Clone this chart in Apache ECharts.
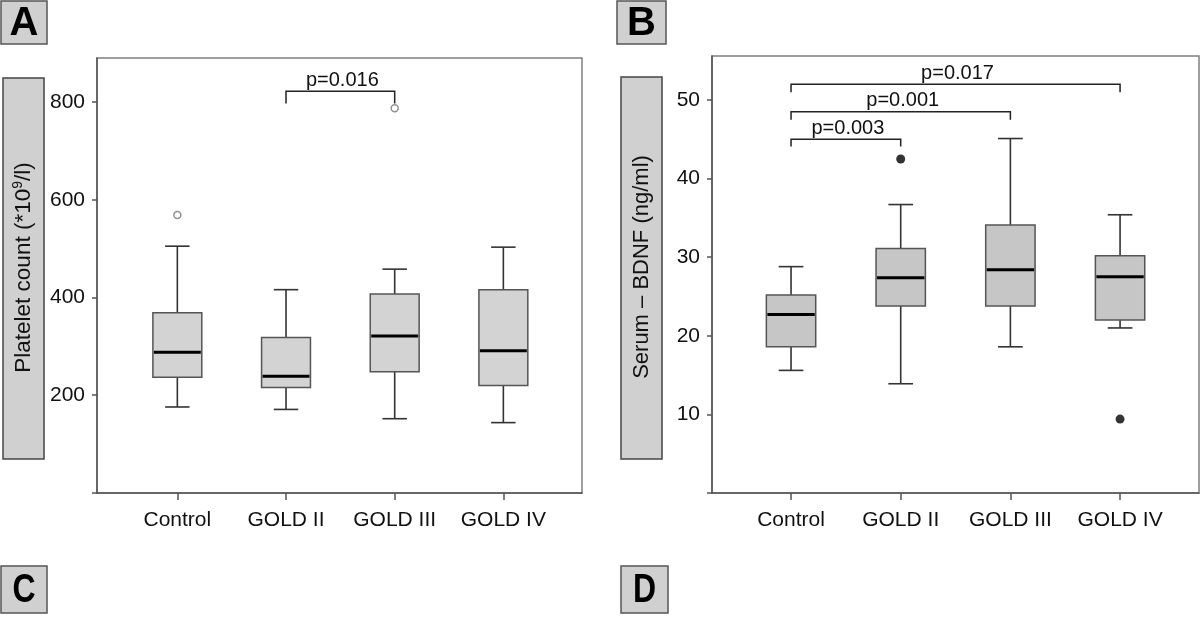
<!DOCTYPE html>
<html><head><meta charset="utf-8">
<script src="https://cdn.jsdelivr.net/npm/echarts@6/dist/echarts.min.js"></script>
<style>html,body{margin:0;padding:0;background:#fff}#c{width:1200px;height:630px}</style>
</head><body><div id="c"></div>
<script>
// ---- data ----
const categories = ['Control', 'GOLD II', 'GOLD III', 'GOLD IV'];
// [lower whisker, Q1, median, Q3, upper whisker]
const plateletBox = [
  [176, 237, 288, 369, 505],
  [171, 216, 239, 318, 416],
  [152, 248, 321, 407, 458],
  [144, 220, 291, 416, 503]
];
const plateletOutliers = [['Control', 569], ['GOLD III', 787]];
const plateletTicks = [0, 200, 400, 600, 800];
const plateletLabels = [200, 400, 600, 800];
const plateletBrackets = [{from: 'GOLD II', to: 'GOLD III', top: 822, leg: 797, p: 'p=0.016'}];

const bdnfBox = [
  [15.6, 18.6, 22.7, 25.2, 28.8],
  [13.9, 23.8, 27.4, 31.1, 36.7],
  [18.6, 23.8, 28.4, 34.1, 45.1],
  [21.0, 22.0, 27.5, 30.2, 35.4]
];
const bdnfOutliers = [['GOLD II', 42.5], ['GOLD IV', 9.4]];
const bdnfTicks = [0, 10, 20, 30, 40, 50];
const bdnfLabels = [10, 20, 30, 40, 50];
const bdnfBrackets = [
  {from: 'Control', to: 'GOLD IV', top: 52.0, leg: 51.0, p: 'p=0.017'},
  {from: 'Control', to: 'GOLD III', top: 48.5, leg: 47.5, p: 'p=0.001'},
  {from: 'Control', to: 'GOLD II', top: 45.0, leg: 44.1, p: 'p=0.003'}
];

// ---- helpers ----
const FONT = 'Liberation Sans, Arial, Helvetica, sans-serif';
const TXT = '#111';

function boxRender(fill) {
  return function (params, api) {
    const i = api.value(0);
    const lo = api.coord([i, api.value(1)]);
    const q1 = api.coord([i, api.value(2)]);
    const md = api.coord([i, api.value(3)]);
    const q3 = api.coord([i, api.value(4)]);
    const hi = api.coord([i, api.value(5)]);
    const bw = api.size([1, 0])[0] * 0.45;
    const cw = bw * 0.5;
    const cx = lo[0];
    const wl = {stroke: '#333', lineWidth: 1.6};
    return {
      type: 'group',
      children: [
        {type: 'line', shape: {x1: cx, y1: hi[1], x2: cx, y2: q3[1]}, style: wl},
        {type: 'line', shape: {x1: cx, y1: q1[1], x2: cx, y2: lo[1]}, style: wl},
        {type: 'line', shape: {x1: cx - cw / 2, y1: hi[1], x2: cx + cw / 2, y2: hi[1]}, style: wl},
        {type: 'line', shape: {x1: cx - cw / 2, y1: lo[1], x2: cx + cw / 2, y2: lo[1]}, style: wl},
        {type: 'rect', shape: {x: cx - bw / 2, y: q3[1], width: bw, height: q1[1] - q3[1]},
          style: {fill: fill, stroke: '#555', lineWidth: 1.5}},
        {type: 'line', shape: {x1: cx - bw / 2 + 1, y1: md[1], x2: cx + bw / 2 - 1, y2: md[1]},
          style: {stroke: '#000', lineWidth: 3}}
      ]
    };
  };
}

function bracketRender(list) {
  return function (params, api) {
    const a = api.coord([api.value(0), api.value(2)]);
    const b = api.coord([api.value(1), api.value(2)]);
    const legY = api.coord([api.value(0), api.value(3)])[1];
    return {
      type: 'group',
      children: [
        {type: 'polyline', shape: {points: [[a[0], legY], [a[0], a[1]], [b[0], b[1]], [b[0], legY]]},
          style: {stroke: '#222', lineWidth: 1.5, fill: null}},
        {type: 'text', x: (a[0] + b[0]) / 2 + 2, y: a[1] - 1,
          style: {text: list[params.dataIndex].p, fill: TXT, font: '20px ' + FONT, align: 'center', verticalAlign: 'bottom'}}
      ]
    };
  };
}

function panel(idx, outer, inner, yMax, ticks, labels, boxes, outliers, brackets, fill, outlierStyle) {
  const g0 = idx * 2, g1 = idx * 2 + 1;
  return {
    grid: [
      Object.assign({show: true, borderColor: '#808080', borderWidth: 1.5, backgroundColor: 'transparent'}, outer),
      Object.assign({show: false}, inner)
    ],
    xAxis: [
      {gridIndex: g0, type: 'value', min: 0, max: 1, axisLine: {show: true, lineStyle: {color: '#555', width: 1.5}},
        axisTick: {show: false}, axisLabel: {show: false}, splitLine: {show: false}},
      {gridIndex: g1, type: 'category', data: categories, boundaryGap: true,
        axisLine: {show: false},
        axisTick: {show: true, interval: 0, alignWithLabel: true, length: 7, lineStyle: {color: '#555', width: 1.5}},
        axisLabel: {interval: 0, hideOverlap: false, fontSize: 21, color: TXT, fontFamily: FONT, margin: 17},
        splitLine: {show: false}}
    ],
    yAxis: [
      {gridIndex: g0, type: 'value', min: 0, max: yMax,
        axisLine: {show: true, lineStyle: {color: '#555', width: 1.5}},
        axisTick: {show: true, length: 5, customValues: ticks, lineStyle: {color: '#555', width: 1.5}},
        axisLabel: {customValues: labels, fontSize: 21, color: TXT, fontFamily: FONT, margin: 12},
        splitLine: {show: false}},
      {gridIndex: g1, type: 'value', min: 0, max: yMax, show: false, splitLine: {show: false}}
    ],
    series: [
      {type: 'custom', xAxisIndex: g1, yAxisIndex: g1, renderItem: boxRender(fill), clip: false,
        encode: {x: 0, y: [1, 2, 3, 4, 5]},
        data: boxes.map((b, i) => [i].concat(b))},
      {type: 'scatter', xAxisIndex: g1, yAxisIndex: g1, data: outliers,
        symbol: 'circle', symbolSize: outlierStyle.size, itemStyle: outlierStyle.item, silent: true},
      {type: 'custom', xAxisIndex: g1, yAxisIndex: g1, renderItem: bracketRender(brackets), clip: false,
        encode: {x: [0, 1], y: [2, 3]},
        data: brackets.map(b => [categories.indexOf(b.from), categories.indexOf(b.to), b.top, b.leg])}
    ]
  };
}

const pA = panel(0, {left: 97, top: 58, width: 485, height: 435}, {left: 123, top: 58, width: 434.7, height: 435},
  890, plateletTicks, plateletLabels, plateletBox, plateletOutliers, plateletBrackets, '#d3d3d3',
  {size: 7, item: {color: '#fff', borderColor: '#777', borderWidth: 1.5}});
const pB = panel(1, {left: 712, top: 56, width: 487, height: 437}, {left: 736.2, top: 56, width: 438.7, height: 437},
  55.6, bdnfTicks, bdnfLabels, bdnfBox, bdnfOutliers, bdnfBrackets, '#c6c6c6',
  {size: 9, item: {color: '#000'}});

function letterBox(x, y, w, h, ch, sx) {
  return {type: 'group', children: [
    {type: 'rect', shape: {x: x, y: y, width: w, height: h}, style: {fill: '#d0d0d0', stroke: '#555', lineWidth: 1.5}},
    {type: 'text', x: x + w / 2, y: y + h / 2 + 1, scaleX: sx, style: {text: ch, font: 'bold 40px ' + FONT, fill: '#000', align: 'center', verticalAlign: 'middle'}}
  ]};
}
function titleBox(x, y, w, h, rich, text) {
  return {type: 'group', children: [
    {type: 'rect', shape: {x: x, y: y, width: w, height: h}, style: {fill: '#d0d0d0', stroke: '#444', lineWidth: 1.5}},
    {type: 'text', x: x + w / 2, y: y + h / 2 - 1, rotation: Math.PI / 2,
      style: {text: text, rich: rich, font: '22px ' + FONT, fill: TXT, align: 'center', verticalAlign: 'middle'}}
  ]};
}

const option = {
  animation: false,
  backgroundColor: '#fff',
  grid: pA.grid.concat(pB.grid),
  xAxis: pA.xAxis.concat(pB.xAxis),
  yAxis: pA.yAxis.concat(pB.yAxis),
  series: pA.series.concat(pB.series),
  graphic: [
    letterBox(1, 1, 46, 43, 'A', 1),
    letterBox(617, 1, 49, 43, 'B', 1),
    letterBox(1, 566, 46, 47, 'C', 0.8),
    letterBox(621, 566, 47, 47, 'D', 0.8),
    titleBox(3, 78, 41, 381, {
      a: {fontSize: 22.5, fontFamily: FONT, color: TXT},
      s: {fontSize: 14, fontFamily: FONT, color: TXT, padding: [0, 0, 11, 0]}
    }, '{a|Platelet count (*10}{s|9}{a|/l)}'),
    titleBox(621, 77, 41, 382, {a: {fontSize: 22, fontFamily: FONT, color: TXT}}, '{a|Serum – BDNF (ng/ml)}')
  ]
};

const chart = echarts.init(document.getElementById('c'));
chart.setOption(option);
</script>
</body></html>
